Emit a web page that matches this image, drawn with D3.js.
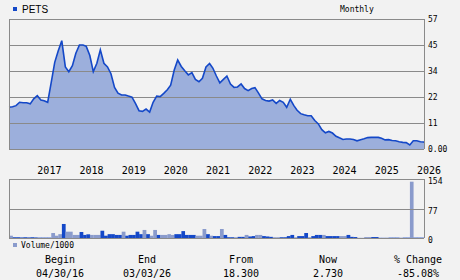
<!DOCTYPE html>
<html>
<head>
<meta charset="utf-8">
<script src="https://cdn.jsdelivr.net/npm/d3@7"></script>
<style>
  body { margin: 0; background: #f2f2f2; }
  svg { display: block; }
</style>
</head>
<body>
<div id="chart"></div>
<script>
// monthly closes, Apr 2016 .. Feb 2026, then the last quote on 03/03/26
var prices = [
  18.3, 18.5, 19.0, 20.5, 20.3, 20.3, 19.8, 22.0, 23.4, 21.5,
  21.2, 20.5, 29.0, 38.0, 43.0, 47.5, 36.0, 33.9, 36.5, 42.0,
  45.6, 45.6, 45.0, 41.0, 33.9, 37.6, 43.5, 37.6, 36.0, 33.0,
  27.0, 24.5, 23.7, 23.7, 23.2, 22.7, 20.0, 16.8, 16.5, 17.5,
  16.2, 20.5, 23.2, 23.0, 24.4, 26.0, 28.0, 34.6, 39.0, 36.2,
  34.3, 32.5, 33.5, 30.5, 29.5, 31.0, 36.0, 37.5, 35.5, 32.0,
  29.0, 30.5, 32.0, 28.5, 27.0, 27.2, 28.5, 26.5, 25.6, 26.5,
  26.9, 24.5, 22.0, 21.3, 21.0, 21.5, 20.0, 21.3, 20.5, 18.3,
  21.8, 19.0, 17.0, 15.5, 15.0, 14.6, 14.6, 12.5, 11.0, 8.5,
  7.1, 7.7, 7.0, 5.6, 4.9, 4.2, 4.4, 4.4, 4.2, 3.6,
  4.1, 4.5, 5.0, 5.1, 5.1, 5.1, 4.7, 4.0, 4.1, 3.7,
  3.6, 3.2, 2.9, 2.8, 1.8, 3.6, 3.6, 3.2, 3.1, 2.73
];

// monthly volume in thousands and whether the bar is drawn dark
var volumes = [
  3, 6, 2, 2, 1.5, 2, 1.5, 2, 1.5, 1,
  1, 1, 1, 13, 6, 10, 36.6, 16.5, 16.5, 8,
  8, 15.7, 8, 9.6, 8, 8, 8, 19, 6, 10,
  10, 8, 8, 16.5, 6, 8, 8, 16.5, 10, 21,
  10, 6, 21, 8, 8, 8, 10, 8, 10, 10,
  18, 8, 8, 8, 6, 6, 23.5, 10, 6, 5,
  5, 23.5, 8, 2, 2, 2, 3, 3, 8, 4,
  5, 8, 8, 5, 4, 3, 2, 2, 2, 2,
  5, 8, 2, 5, 5, 13, 2, 5, 8, 8,
  8, 5, 5, 5, 5, 5, 5, 8, 3, 2.5,
  0.5, 0.5, 2.5, 2.5, 2.5, 2.5, 0.5, 0.5, 1, 1,
  1, 1, 1, 1, 1, 147, 1, 1, 1
];
var volDark = [
  0, 0, 1, 1, 1, 1, 1, 1, 1, 1,
  1, 1, 1, 0, 0, 0, 1, 0, 0, 0,
  0, 1, 1, 1, 0, 0, 0, 1, 1, 1,
  1, 1, 1, 0, 1, 1, 1, 1, 1, 0,
  1, 0, 0, 1, 0, 0, 0, 0, 1, 1,
  1, 1, 1, 1, 0, 0, 0, 1, 0, 1,
  1, 0, 1, 1, 1, 0, 1, 1, 0, 1,
  1, 0, 0, 1, 1, 1, 0, 0, 1, 1,
  1, 1, 0, 1, 1, 1, 0, 1, 1, 1,
  0, 1, 1, 1, 1, 0, 0, 1, 1, 1,
  0, 0, 0, 0, 1, 1, 1, 1, 0, 1,
  1, 1, 0, 1, 1, 0, 1, 1, 1
];

var years = [2017, 2018, 2019, 2020, 2021, 2022, 2023, 2024, 2025, 2026];
var priceTicks = [0, 11.4, 22.8, 34.2, 45.6, 57];
var priceTickLabels = ["0.00", "11", "22", "34", "45", "57"];
var volTicks = [0, 77, 154];
var volTickLabels = ["0", "77", "154"];

var symbol = "PETS";
var summaryHeads = ["Begin", "End", "From", "Now", "% Change"];
var summaryVals = ["04/30/16", "03/03/26", "18.300", "2.730", "-85.08%"];

var width = 460, height = 280;
var left = 9, right = 424;
var startDate = new Date(2016, 3, 30), endDate = new Date(2026, 2, 3);

// month i ends on the last day of (April 2016 + i)
function monthEnd(i) {
    return d3.timeDay.offset(d3.timeMonth.offset(new Date(2016, 4, 1), i), -1);
}
function monthStart(i) {
    return d3.timeMonth.offset(new Date(2016, 3, 1), i);
}
var priceData = prices.map(function(p, i) {
    return { date: i < prices.length - 1 ? monthEnd(i) : endDate, value: p };
});

var x = d3.scaleTime().domain([startDate, endDate]).range([left, right]).clamp(true);
var y = d3.scaleLinear().domain([0, 57]).range([149, 19]);
var yv = d3.scaleLinear().domain([0, 154]).range([238, 179]);

var svg = d3.select("#chart").append("svg")
    .attr("width", width)
    .attr("height", height);

svg.append("rect").attr("width", width).attr("height", height).attr("fill", "#f2f2f2");

var grid = "#8a8a8a";
var dark = "#1448c8";
var mono = "'DejaVu Sans Mono', monospace";

// price area + line
svg.append("path")
    .datum(priceData)
    .attr("fill", "#9cafdc")
    .attr("d", d3.area().x(function(d) { return x(d.date); }).y0(y(0)).y1(function(d) { return y(d.value); }));

// grid lines over the area
svg.selectAll("line.pgrid")
    .data(priceTicks)
    .enter().append("line")
    .attr("x1", left).attr("x2", right)
    .attr("y1", function(d) { return Math.round(y(d)) + 0.5; })
    .attr("y2", function(d) { return Math.round(y(d)) + 0.5; })
    .attr("stroke", grid);

svg.append("path")
    .datum(priceData)
    .attr("fill", "none")
    .attr("stroke", dark)
    .attr("stroke-width", 1.6)
    .attr("d", d3.line().x(function(d) { return x(d.date); }).y(function(d) { return y(d.value); }));

svg.append("line").attr("x1", left + 0.5).attr("x2", left + 0.5).attr("y1", 19).attr("y2", 149).attr("stroke", grid);
svg.append("line").attr("x1", right + 0.5).attr("x2", right + 0.5).attr("y1", 19).attr("y2", 149).attr("stroke", grid);

svg.selectAll("text.pt")
    .data(priceTicks)
    .enter().append("text")
    .attr("x", 428)
    .attr("y", function(d) { return y(d) + 3; })
    .attr("font-family", mono)
    .attr("font-size", 8)
    .text(function(d, i) { return priceTickLabels[i]; });

// year labels
svg.selectAll("text.yr")
    .data(years)
    .enter().append("text")
    .attr("x", function(d) { return x(new Date(d, 0, 1)) + 12; })
    .attr("y", 174)
    .attr("text-anchor", "middle")
    .attr("font-family", mono)
    .attr("font-size", 10)
    .text(function(d) { return d; });

// volume panel
svg.selectAll("rect.vol")
    .data(volumes)
    .enter().append("rect")
    .attr("x", function(d, i) { return x(monthStart(i)); })
    .attr("width", function(d, i) { return x(monthEnd(i)) - x(monthStart(i)) + 0.3; })
    .attr("y", function(d) { return yv(d); })
    .attr("height", function(d) { return yv(0) - yv(d); })
    .attr("fill", function(d, i) { return volDark[i] ? dark : "#8a9bcc"; });

svg.selectAll("line.vgrid")
    .data(volTicks)
    .enter().append("line")
    .attr("x1", left).attr("x2", right)
    .attr("y1", function(d) { return Math.round(yv(d)) + 0.5; })
    .attr("y2", function(d) { return Math.round(yv(d)) + 0.5; })
    .attr("stroke", grid);
svg.append("line").attr("x1", left + 0.5).attr("x2", left + 0.5).attr("y1", 179).attr("y2", 238).attr("stroke", grid);
svg.append("line").attr("x1", right + 0.5).attr("x2", right + 0.5).attr("y1", 179).attr("y2", 238).attr("stroke", grid);

svg.selectAll("text.vt")
    .data(volTicks)
    .enter().append("text")
    .attr("x", 428)
    .attr("y", function(d) { return yv(d) + 5; })
    .attr("font-family", mono)
    .attr("font-size", 8)
    .text(function(d, i) { return volTickLabels[i]; });

// legends
svg.append("rect").attr("x", 13).attr("y", 7).attr("width", 4).attr("height", 4).attr("fill", dark);
svg.append("text").attr("x", 22).attr("y", 13).attr("font-family", "'Liberation Sans', Arial, sans-serif")
    .attr("font-size", 10).text(symbol);
svg.append("text").attr("x", 340).attr("y", 12).attr("font-family", mono).attr("font-size", 8).text("Monthly");

svg.append("rect").attr("x", 13).attr("y", 243).attr("width", 4).attr("height", 4).attr("fill", "#8a9bcc");
svg.append("text").attr("x", 21).attr("y", 248).attr("font-family", mono).attr("font-size", 8).text("Volume/1000");

// summary row
var sumX = [60, 147, 241, 328, 418];
svg.selectAll("text.sh")
    .data(summaryHeads)
    .enter().append("text")
    .attr("x", function(d, i) { return sumX[i]; })
    .attr("y", 263)
    .attr("text-anchor", "middle")
    .attr("font-family", mono)
    .attr("font-size", 10)
    .text(function(d) { return d; });
svg.selectAll("text.sv")
    .data(summaryVals)
    .enter().append("text")
    .attr("x", function(d, i) { return sumX[i]; })
    .attr("y", 277)
    .attr("text-anchor", "middle")
    .attr("font-family", mono)
    .attr("font-size", 10)
    .text(function(d) { return d; });
</script>
</body>
</html>
